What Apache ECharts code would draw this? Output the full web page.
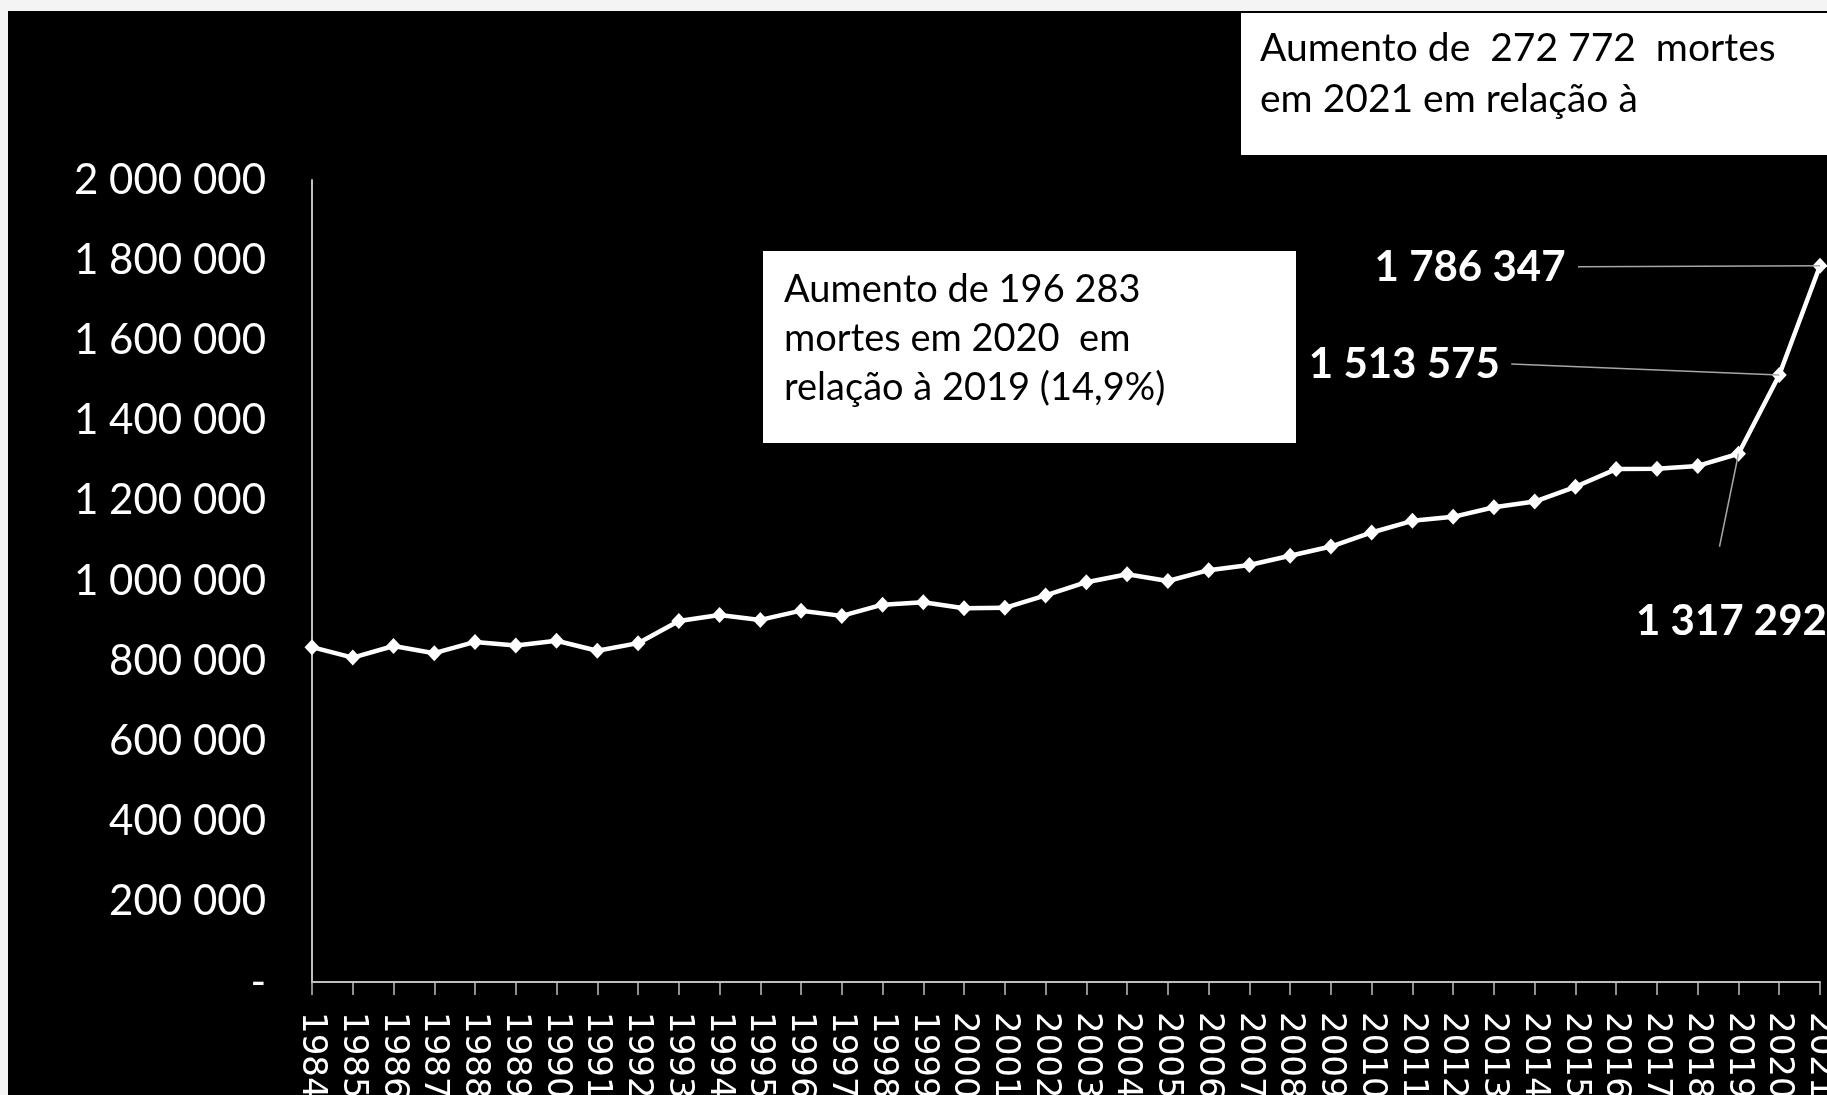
<!DOCTYPE html>
<html>
<head>
<meta charset="utf-8">
<title>Óbitos registrados 1984-2021</title>
<script src="https://cdn.jsdelivr.net/npm/echarts@6.0.0/dist/echarts.min.js"></script>
<style>
  html, body { margin: 0; padding: 0; background: #f4f4f4; overflow: hidden; }
  #obitos-chart { position: absolute; left: 8px; top: 11px; width: 1819px; height: 1084px; }
</style>
</head>
<body>
<div id="obitos-chart"></div>
<script>
// anos e numero de mortes registradas
var anos = ['1984', '1985', '1986', '1987', '1988', '1989', '1990', '1991', '1992', '1993',
            '1994', '1995', '1996', '1997', '1998', '1999', '2000', '2001', '2002', '2003',
            '2004', '2005', '2006', '2007', '2008', '2009', '2010', '2011', '2012', '2013',
            '2014', '2015', '2016', '2017', '2018', '2019', '2020', '2021'];
var obitos = [835000, 809000, 838000, 820000, 848000, 839000, 851000, 826000, 845000, 900000,
              915000, 903000, 926000, 913000, 941000, 947000, 932000, 933000, 964000, 997000,
              1017000, 1000000, 1027000, 1040000, 1063000, 1086000, 1121000, 1150000, 1160000, 1184000,
              1198000, 1235000, 1279000, 1280000, 1287000, 1317292, 1513575, 1786347];
var yMin = 0;
var yMax = 2000000;
var yStep = 200000;
var textoCaixa2020 = ['Aumento de 196 283', 'mortes em 2020  em', 'relação à 2019 (14,9%)'];
var textoCaixa2021 = ['Aumento de  272 772  mortes', 'em 2021 em relação à'];

// 1 786 347
function milhar(v) {
    if (v === 0) return '-';
    return String(v).replace(/\B(?=(\d{3})+(?!\d))/g, ' ');
}

// rotulos dos ultimos anos (posicao relativa ao ponto) e inicio da linha guia
var rotulos = {
    '2019': { position: 'bottom', distance: 139, offset: [-7, 0], guia: [-19, 93] },
    '2020': { position: 'left', distance: 272, offset: [0, -11], guia: [-268, -11] },
    '2021': { position: 'left', distance: 247, offset: [0, 2], guia: [-242, 1] }
};

var dados = [];
for (var i = 0; i < obitos.length; i++) {
    var r = rotulos[anos[i]];
    if (r) {
        dados.push({
            value: obitos[i],
            label: {
                show: true,
                position: r.position,
                distance: r.distance,
                offset: r.offset,
                color: '#fff',
                fontFamily: 'Lato',
                fontWeight: 'bold',
                fontSize: 42,
                formatter: function (p) { return milhar(p.value); }
            }
        });
    } else {
        dados.push(obitos[i]);
    }
}

var chart = echarts.init(document.getElementById('obitos-chart'));

chart.setOption({
    animation: false,
    backgroundColor: '#000',
    grid: {
        left: 304,
        right: 7,
        top: 169,
        bottom: 113,
        containLabel: false,
        outerBoundsMode: 'none'
    },
    xAxis: {
        type: 'category',
        data: anos,
        boundaryGap: false,
        axisLine: { show: true, lineStyle: { color: '#bfbfbf', width: 2 } },
        axisTick: { show: true, interval: 0, length: 13, lineStyle: { color: '#bfbfbf', width: 1.5 } },
        axisLabel: {
            interval: 0,
            rotate: -90,
            margin: 30,
            color: '#fff',
            fontFamily: 'DejaVu Sans',
            fontSize: 34
        },
        splitLine: { show: false }
    },
    yAxis: {
        type: 'value',
        min: yMin,
        max: yMax,
        interval: yStep,
        axisLine: { show: true, lineStyle: { color: '#bfbfbf', width: 2 } },
        axisTick: { show: false },
        splitLine: { show: false },
        axisLabel: {
            margin: 46,
            color: '#fff',
            fontFamily: 'Lato',
            fontSize: 42,
            formatter: milhar
        }
    },
    series: [
        {
            name: 'Óbitos',
            type: 'line',
            data: dados,
            showAllSymbol: true,
            symbol: 'diamond',
            symbolSize: [15, 16],
            itemStyle: { color: '#fff' },
            lineStyle: { color: '#fff', width: 4.5 },
            label: { show: false },
            emphasis: { disabled: true }
        }
    ]
});

// caixas de texto
var caixas = [
    {
        type: 'rect',
        shape: { x: 755, y: 240, width: 533, height: 192 },
        style: { fill: '#fff' }
    },
    {
        type: 'text',
        x: 776,
        y: 254,
        style: {
            text: textoCaixa2020.join('\n'),
            font: '38px Lato',
            lineHeight: 49,
            fill: '#000'
        }
    },
    {
        type: 'rect',
        shape: { x: 1233, y: 2, width: 600, height: 142 },
        style: { fill: '#fff' }
    },
    {
        type: 'text',
        x: 1252,
        y: 12,
        style: {
            text: textoCaixa2021.join('\n'),
            font: '39px Lato',
            lineHeight: 51,
            fill: '#000'
        }
    }
];

// linhas guia ligando os rotulos aos pontos
var linhas = [];
for (var ano in rotulos) {
    var idx = anos.indexOf(ano);
    var p = chart.convertToPixel({ seriesIndex: 0 }, [idx, obitos[idx]]);
    linhas.push({
        type: 'line',
        z: 10,
        shape: { x1: p[0] + rotulos[ano].guia[0], y1: p[1] + rotulos[ano].guia[1], x2: p[0], y2: p[1] },
        style: { stroke: '#a6a6a6', lineWidth: 1.5 }
    });
}

chart.setOption({ graphic: caixas.concat(linhas) });
</script>
</body>
</html>
